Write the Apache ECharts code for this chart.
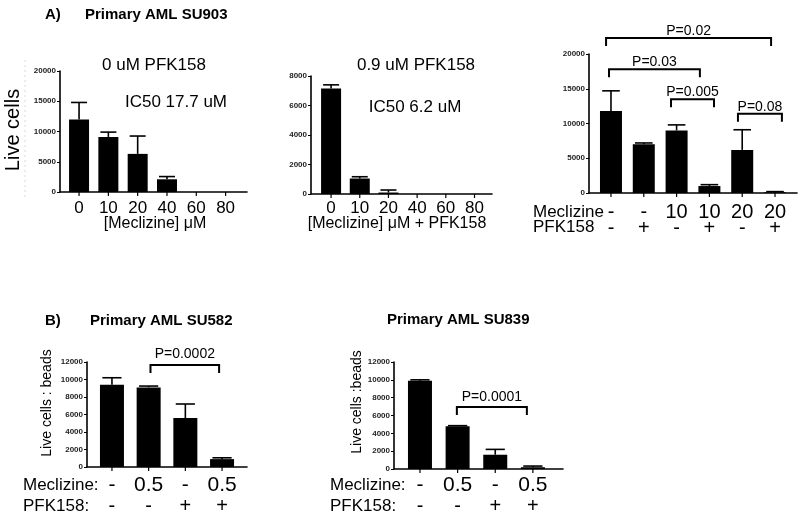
<!DOCTYPE html>
<html>
<head>
<meta charset="utf-8">
<script src="https://cdn.jsdelivr.net/npm/echarts@6/dist/echarts.min.js"></script>
<style>html,body{margin:0;padding:0;background:#fff}#c{width:800px;height:523px}</style>
</head>
<body>
<div id="c"></div>
<script>
// ---------- DATA ----------
const A1_CATEGORIES = ['0', '10', '20', '40', '60', '80'];
const A1_VALUES = [12000, 9100, 6300, 2100, 0, 0];
const A1_ERRORS = [2800, 800, 2950, 450, 0, 0];

const A2_CATEGORIES = ['0', '10', '20', '40', '60', '80'];
const A2_VALUES = [7150, 1050, 100, 0, 0, 0];
const A2_ERRORS = [250, 120, 170, 0, 0, 0];

const A3_MECLIZINE = ['-', '-', '10', '10', '20', '20'];
const A3_PFK158 = ['-', '+', '-', '+', '-', '+'];
const A3_VALUES = [11800, 7000, 9000, 1000, 6200, 100];
const A3_ERRORS = [2900, 200, 800, 200, 2900, 100];
const A3_PVALUES = ['P=0.02', 'P=0.03', 'P=0.005', 'P=0.08'];
const A3_BRACKET_FROM = [-0.15, -0.06, 1.83, 3.87];
const A3_BRACKET_TO = [4.88, 2.71, 3.14, 5.21];
const A3_BRACKET_LEVEL = [22300, 17800, 13500, 11400];

const B1_MECLIZINE = ['-', '0.5', '-', '0.5'];
const B1_PFK158 = ['-', '-', '+', '+'];
const B1_VALUES = [9400, 9100, 5600, 900];
const B1_ERRORS = [800, 150, 1600, 150];
const B1_PVALUES = ['P=0.0002'];
const B1_BRACKET_FROM = [1.05];
const B1_BRACKET_TO = [2.92];
const B1_BRACKET_LEVEL = [11660];

const B2_MECLIZINE = ['-', '0.5', '-', '0.5'];
const B2_PFK158 = ['-', '-', '+', '+'];
const B2_VALUES = [9900, 4800, 1600, 200];
const B2_ERRORS = [100, 60, 600, 130];
const B2_PVALUES = ['P=0.0001'];
const B2_BRACKET_FROM = [0.98];
const B2_BRACKET_TO = [2.84];
const B2_BRACKET_LEVEL = [6950];

// ---------- LAYOUT ----------
const FONT = '"Liberation Sans", Arial, Helvetica, sans-serif';

const panels = [
  { grid: {left: 60, top: 71, width: 187, height: 121}, xMin: -0.65, xMax: 5.73, yMax: 20000, yInterval: 5000,
    barWidth: 20, values: A1_VALUES, errors: A1_ERRORS,
    rows: [A1_CATEGORIES], rowOffsets: [16], rowFonts: [17] },
  { grid: {left: 311, top: 76, width: 181, height: 118}, xMin: -0.70, xMax: 5.61, yMax: 8000, yInterval: 2000,
    barWidth: 20, values: A2_VALUES, errors: A2_ERRORS,
    rows: [A2_CATEGORIES], rowOffsets: [14], rowFonts: [17] },
  { grid: {left: 589, top: 54, width: 208, height: 139}, xMin: -0.67, xMax: 5.67, yMax: 20000, yInterval: 5000,
    barWidth: 22, values: A3_VALUES, errors: A3_ERRORS,
    rows: [A3_MECLIZINE, A3_PFK158], rowOffsets: [19, 35], rowFonts: [20, 20],
    brackets: {from: A3_BRACKET_FROM, to: A3_BRACKET_TO, level: A3_BRACKET_LEVEL, labels: A3_PVALUES, labelGap: 7} },
  { grid: {left: 87, top: 362, width: 160, height: 105}, xMin: -0.68, xMax: 3.68, yMax: 12000, yInterval: 2000,
    barWidth: 24, values: B1_VALUES, errors: B1_ERRORS,
    rows: [B1_MECLIZINE, B1_PFK158], rowOffsets: [18, 39], rowFonts: [21, 20],
    brackets: {from: B1_BRACKET_FROM, to: B1_BRACKET_TO, level: B1_BRACKET_LEVEL, labels: B1_PVALUES, labelGap: 11} },
  { grid: {left: 394, top: 362, width: 169, height: 107}, xMin: -0.69, xMax: 3.8, yMax: 12000, yInterval: 2000,
    barWidth: 24, values: B2_VALUES, errors: B2_ERRORS,
    rows: [B2_MECLIZINE, B2_PFK158], rowOffsets: [16, 37], rowFonts: [21, 20],
    brackets: {from: B2_BRACKET_FROM, to: B2_BRACKET_TO, level: B2_BRACKET_LEVEL, labels: B2_PVALUES, labelGap: 10} }
];

const grids = [], xAxes = [], yAxes = [], series = [];

panels.forEach((p, k) => {
  grids.push(Object.assign({containLabel: false}, p.grid));
  xAxes.push({
    type: 'value', gridIndex: k, min: p.xMin, max: p.xMax,
    axisLine: {show: true, onZero: false, lineStyle: {color: '#000', width: 1.6}},
    axisTick: {show: false}, axisLabel: {show: false}, splitLine: {show: false}
  });
  yAxes.push({
    type: 'value', gridIndex: k, min: 0, max: p.yMax, interval: p.yInterval,
    axisLine: {show: true, onZero: false, lineStyle: {color: '#000', width: 1.6}},
    axisTick: {show: true, length: 3, lineStyle: {color: '#000', width: 1}},
    axisLabel: {fontSize: 8, color: '#222', margin: 4, fontFamily: FONT, fontWeight: 'bold',
                formatter: function (v) { return String(v); }},
    splitLine: {show: false}
  });
  series.push({
    type: 'bar', xAxisIndex: k, yAxisIndex: k, barWidth: p.barWidth,
    itemStyle: {color: '#000'}, silent: true,
    data: p.values.map((v, i) => [i, v])
  });
  const rows = p.rows, offs = p.rowOffsets, fonts = p.rowFonts, capW = p.barWidth * 0.8;
  series.push({
    type: 'custom', xAxisIndex: k, yAxisIndex: k, silent: true, z: 5,
    data: p.values.map((v, i) => [i, v, p.errors[i]]),
    renderItem: function (params, api) {
      const i = api.value(0), v = api.value(1), e = api.value(2);
      const base = api.coord([i, 0]);
      const ch = [];
      ch.push({type: 'line', shape: {x1: base[0], y1: base[1], x2: base[0], y2: base[1] + 4},
               style: {stroke: '#000', lineWidth: 1.2}});
      if (e > 0) {
        const top = api.coord([i, v + e]);
        const mid = api.coord([i, v]);
        ch.push({type: 'line', shape: {x1: mid[0], y1: mid[1], x2: top[0], y2: top[1]},
                 style: {stroke: '#000', lineWidth: 1.6}});
        ch.push({type: 'line', shape: {x1: top[0] - capW / 2, y1: top[1], x2: top[0] + capW / 2, y2: top[1]},
                 style: {stroke: '#000', lineWidth: 1.6}});
      }
      rows.forEach((row, r) => {
        ch.push({type: 'text', x: base[0], y: base[1] + offs[r],
                 style: {text: row[params.dataIndex], fill: '#000', fontSize: fonts[r], fontFamily: FONT,
                         align: 'center', verticalAlign: 'middle'}});
      });
      return {type: 'group', children: ch};
    }
  });
  if (p.brackets) {
    const b = p.brackets;
    series.push({
      type: 'custom', xAxisIndex: k, yAxisIndex: k, silent: true, z: 6, clip: false,
      encode: {x: [0, 1], y: 2},
      data: b.from.map((f, j) => [f, b.to[j], b.level[j]]),
      renderItem: function (params, api) {
        const p1 = api.coord([api.value(0), api.value(2)]);
        const p2 = api.coord([api.value(1), api.value(2)]);
        return {type: 'group', children: [
          {type: 'polyline', shape: {points: [[p1[0], p1[1] + 8], [p1[0], p1[1]], [p2[0], p2[1]], [p2[0], p2[1] + 8]]},
           style: {stroke: '#000', lineWidth: 2, fill: null}},
          {type: 'text', x: (p1[0] + p2[0]) / 2, y: p1[1] - b.labelGap,
           style: {text: b.labels[params.dataIndex], fill: '#000', fontSize: 14, fontFamily: FONT,
                   align: 'center', verticalAlign: 'middle'}}
        ]};
      }
    });
  }
});

function txt(text, x, y, size, opts) {
  opts = opts || {};
  return {type: 'text', x: x, y: y, rotation: opts.rotation || 0, silent: true,
    style: {text: text, fill: '#000', fontSize: size, fontFamily: FONT, fontWeight: opts.bold ? 'bold' : 'normal',
            align: opts.align || 'left', verticalAlign: 'middle'}};
}

const graphics = [
  txt('A)', 45, 15, 15, {bold: true}),
  txt('Primary AML SU903', 85, 15, 15, {bold: true}),
  txt('B)', 45, 321, 15, {bold: true}),
  txt('Primary AML SU582', 90, 321, 15, {bold: true}),
  txt('Primary AML SU839', 387, 320, 15, {bold: true}),
  txt('0 uM PFK158', 154, 65, 17, {align: 'center'}),
  txt('IC50 17.7 uM', 176, 102, 17, {align: 'center'}),
  txt('0.9 uM PFK158', 416, 65, 17, {align: 'center'}),
  txt('IC50 6.2 uM', 415, 107, 17, {align: 'center'}),
  txt('[Meclizine] \u03bcM', 155, 224, 16, {align: 'center'}),
  txt('[Meclizine] \u03bcM + PFK158', 397, 224, 16, {align: 'center'}),
  txt('Live cells', 13, 130, 20, {align: 'center', rotation: Math.PI / 2}),
  txt('Live cells : beads', 47, 403, 14, {align: 'center', rotation: Math.PI / 2}),
  txt('Live cells :beads', 357, 402, 14, {align: 'center', rotation: Math.PI / 2}),
  txt('Meclizine', 533, 212, 17),
  txt('PFK158', 533, 227, 17),
  txt('Meclizine:', 23, 485, 17),
  txt('PFK158:', 23, 506, 17),
  txt('Meclizine:', 330, 485, 17),
  txt('PFK158:', 330, 506, 17),
  {type: 'line', silent: true, shape: {x1: 25, y1: 60, x2: 25, y2: 200},
   style: {stroke: '#d8d8d8', lineWidth: 1, lineDash: [2, 3]}}
];

const chart = echarts.init(document.getElementById('c'), null, {renderer: 'canvas'});
chart.setOption({
  backgroundColor: '#fff',
  animation: false,
  grid: grids,
  xAxis: xAxes,
  yAxis: yAxes,
  series: series,
  graphic: graphics
});
</script>
</body>
</html>
